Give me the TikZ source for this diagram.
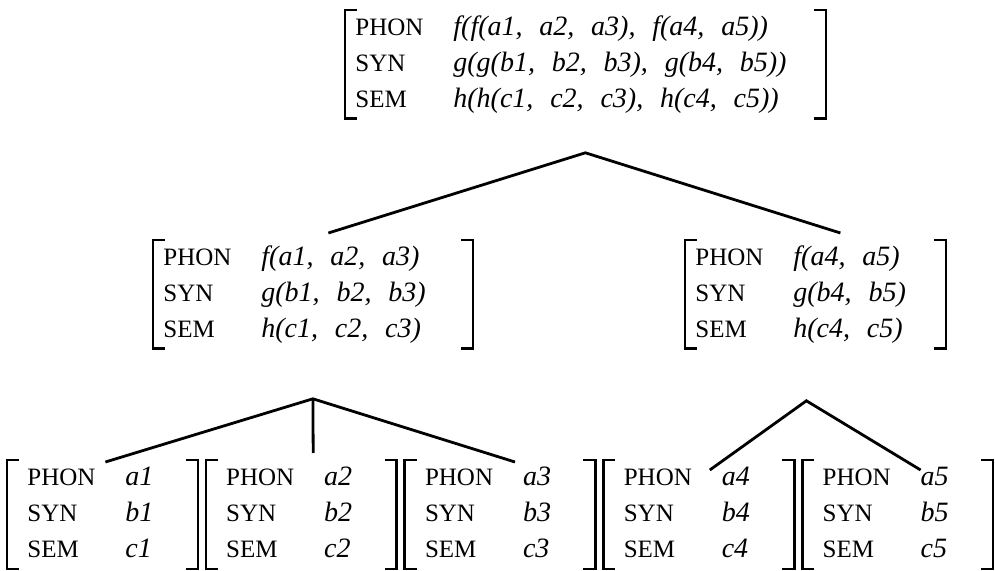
\documentclass[tikz,border=0pt]{standalone}
\usepackage{fontspec}
\setmainfont{Liberation Serif}
\usetikzlibrary{positioning}
\newcommand\feat[2]{\strut\makebox[49pt][l]{\fontsize{12.5}{18}\selectfont #1}\textit{#2}}
\newcommand\cm{,\hspace{.6em}}
\begin{document}
\begin{tikzpicture}[x=0.5pt,y=-0.5pt,
avm/.style={inner xsep=5pt,inner ysep=0pt,align=left,font=\fontsize{14}{18}\selectfont,anchor=north west},
leaf/.style={avm,inner xsep=10pt,text width=75pt},
brk/.style={line width=1.3pt},
branch/.style={line width=1.4pt}]
\useasboundingbox (0,0) rectangle (995,571);
% mother
\node[avm,text width=230pt] (top) at (345,10) {\feat{PHON}{f(f(a1\cm a2\cm a3)\cm f(a4\cm a5))}\\
\feat{SYN}{g(g(b1\cm b2\cm b3)\cm g(b4\cm b5))}\\
\feat{SEM}{h(h(c1\cm c2\cm c3)\cm h(c4\cm c5))}};
% daughters
\node[avm,text width=149.5pt] (midl) at (153,240) {\feat{PHON}{f(a1\cm a2\cm a3)}\\
\feat{SYN}{g(b1\cm b2\cm b3)}\\
\feat{SEM}{h(c1\cm c2\cm c3)}};
\node[avm,text width=120pt] (midr) at (685,240) {\feat{PHON}{f(a4\cm a5)}\\
\feat{SYN}{g(b4\cm b5)}\\
\feat{SEM}{h(c4\cm c5)}};
% leaves
\node[leaf] (l1) at (7,460) {\feat{PHON}{a1}\\ \feat{SYN}{b1}\\ \feat{SEM}{c1}};
\node[leaf,right=4pt of l1] (l2) {\feat{PHON}{a2}\\ \feat{SYN}{b2}\\ \feat{SEM}{c2}};
\node[leaf,right=4pt of l2] (l3) {\feat{PHON}{a3}\\ \feat{SYN}{b3}\\ \feat{SEM}{c3}};
\node[leaf,right=4pt of l3] (l4) {\feat{PHON}{a4}\\ \feat{SYN}{b4}\\ \feat{SEM}{c4}};
\node[leaf,right=4pt of l4] (l5) {\feat{PHON}{a5}\\ \feat{SYN}{b5}\\ \feat{SEM}{c5}};
% brackets
\foreach \n in {top,midl,midr,l1,l2,l3,l4,l5}
  \draw[brk] ([xshift=6pt]\n.north west) -| (\n.south west) -- ++(12,0)
    ([xshift=-6pt]\n.north east) -| (\n.south east) -- ++(-12,0);
% branches
\coordinate[below=17pt of top] (ta);
\coordinate[below=25pt of midl] (la);
\coordinate[below=26pt of midr,xshift=-4.5pt] (ra);
\draw[branch] ([xshift=7.75pt,yshift=3.5pt]midl.north) -- (ta) -- ([xshift=12.5pt,yshift=3.5pt]midr.north);
\draw[branch] ([xshift=1.5pt,yshift=-1pt]l1.north) -- (la) -- ([xshift=7.5pt,yshift=-1pt]l3.north);
\draw[branch] (la) -- ([xshift=6pt,yshift=3.5pt]l2.north);
\draw[branch] ([xshift=5.5pt,yshift=-5pt]l4.north) -- (ra) -- ([xshift=11.5pt,yshift=-5pt]l5.north);
\end{tikzpicture}
\end{document}
